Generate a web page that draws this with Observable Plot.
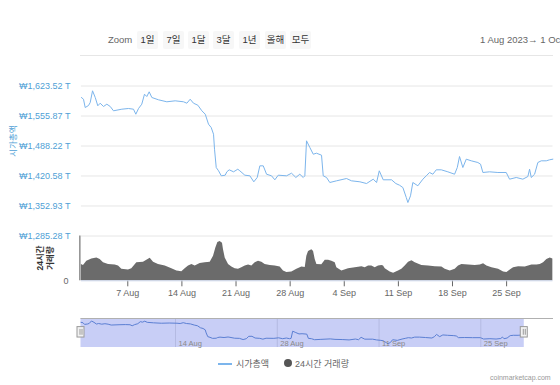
<!DOCTYPE html>
<html>
<head>
<meta charset="utf-8">
<script src="https://cdn.jsdelivr.net/npm/d3@7"></script>
<script src="https://cdn.jsdelivr.net/npm/@observablehq/plot@0.6"></script>
<style>
  html, body { margin: 0; padding: 0; background: #fff; }
  #chart { position: relative; width: 560px; height: 385px; overflow: hidden; background: #fff;
    font-family: "Liberation Sans", Arial, "Noto Sans CJK KR", sans-serif; }
  #chart svg { position: absolute; left: 0; }
  .abs { position: absolute; white-space: nowrap; }
  .btn { position: absolute; top: 31px; height: 18px; line-height: 18px; text-align: center; background: #f7f7f7; color: #333; font-size: 9.5px; border-radius: 2px; }
</style>
</head>
<body>
<div id="chart"></div>
<script>
// ---------- data ----------
const startDate = "2023-08-01";
// market cap (₩ trillion), day offsets from 1 Aug 2023
const mcapDays = [0,0.27,0.49,0.92,1.14,1.44,1.79,2.12,2.43,2.86,3.29,3.73,4.15,5.23,6.09,6.74,7.04,7.39,7.81,8.16,8.46,8.77,9.11,9.97,11.05,12.13,13.21,13.64,14.07,14.5,15.06,15.58,16.02,16.44,16.79,17.09,17.22,17.44,17.74,18.09,18.6,18.81,19.12,19.68,20.23,20.49,21.14,21.79,22.3,22.74,23.08,23.52,23.95,24.59,25.02,25.46,26.53,27.18,27.74,28.25,28.69,28.9,29.12,29.55,29.99,30.41,31.06,31.28,31.71,32.13,33.0,34.29,34.94,36.02,36.88,37.75,38.18,38.53,39.04,40.12,40.67,41.15,41.58,42.02,42.23,42.57,42.87,43.52,44.17,44.61,45.03,45.46,45.9,46.55,47.4,48.27,48.62,48.91,49.34,49.78,50.43,51.28,51.63,51.93,52.79,53.87,54.95,55.38,56.25,57.1,57.75,57.97,58.19,58.62,59.04,59.48,60.13,60.56,60.98];
const mcapValues = [1597.6,1593.7,1575.0,1579.5,1586.3,1612.7,1597.6,1578.9,1584.7,1577.3,1582.5,1577.3,1567.6,1571.2,1572.8,1571.2,1559.9,1572.8,1582.5,1605.0,1599.8,1610.4,1597.6,1592.4,1587.9,1590.1,1587.9,1584.7,1593.7,1584.7,1580.2,1567.6,1559.9,1537.4,1529.9,1514.8,1481.0,1439.7,1432.3,1421.0,1422.4,1430.0,1434.5,1430.0,1435.9,1432.3,1422.4,1421.0,1407.5,1417.2,1443.5,1443.5,1424.6,1421.0,1412.0,1422.4,1421.0,1426.9,1417.2,1424.6,1417.2,1421.0,1499.9,1484.8,1469.7,1472.0,1467.5,1421.0,1417.2,1405.9,1409.7,1414.9,1409.7,1407.5,1403.6,1413.4,1405.9,1432.3,1412.0,1412.0,1403.6,1399.8,1394.6,1372.1,1360.8,1375.9,1405.9,1398.5,1413.4,1421.0,1428.5,1424.6,1434.5,1434.5,1430.0,1424.6,1439.7,1464.5,1439.7,1458.5,1454.8,1451.0,1447.2,1428.5,1430.0,1428.5,1428.5,1413.4,1417.2,1413.4,1419.4,1435.9,1417.2,1424.6,1451.0,1454.8,1454.8,1457.1,1458.5];
// 24h volume (₩ trillion, estimated), day offsets from 1 Aug 2023
const volDays = [0,0.27,0.7,1.35,2.0,2.43,2.86,3.51,4.37,4.8,5.23,6.09,6.52,7.17,8.03,8.46,8.9,9.33,9.97,10.84,11.7,12.35,12.99,13.42,13.86,14.29,14.72,15.36,16.01,16.66,17.09,17.39,17.65,17.95,18.25,18.38,18.6,19.03,19.46,19.89,20.32,20.75,21.19,21.62,22.05,22.48,22.91,23.34,23.77,24.42,25.07,25.71,26.14,26.58,27.22,27.87,28.52,28.95,29.16,29.38,29.81,30.03,30.24,30.46,31.1,31.54,31.97,32.4,32.83,33.04,33.69,34.55,35.42,36.28,36.71,37.14,37.57,38.0,38.43,38.87,39.08,39.3,39.94,40.38,41.02,41.45,41.88,42.32,42.75,43.18,44.04,44.9,45.77,46.63,47.06,47.71,48.35,48.78,49.22,50.08,50.94,51.59,52.02,52.45,53.1,53.96,54.61,55.04,55.47,55.9,56.55,57.41,57.84,58.27,58.92,59.35,59.78,60.21,60.64,60.98];
const volValues = [43.8,41.2,52.6,58.7,61.3,56.9,48.2,43.8,42.0,39.4,30.7,28.9,32.4,48.2,49.9,55.2,60.4,49.9,43.8,39.4,32.4,26.3,24.5,32.4,39.4,43.8,39.4,46.4,48.2,49.9,65.7,87.6,102.5,105.1,100.7,83.2,61.3,43.8,36.8,32.4,30.7,35.0,39.4,42.0,39.4,48.2,52.6,49.9,43.8,41.2,39.4,36.8,26.3,21.9,23.7,30.7,36.8,35.9,65.7,78.8,83.2,78.8,56.9,43.8,42.9,55.2,55.2,52.6,48.2,35.0,26.3,32.4,35.0,37.7,35.0,39.4,39.4,35.0,39.4,41.2,39.4,32.4,23.7,20.1,26.3,30.7,39.4,49.9,53.4,48.2,41.2,39.4,37.7,36.8,30.7,26.3,30.7,39.4,43.8,42.0,41.2,42.0,45.6,39.4,35.0,30.7,23.7,21.9,28.9,35.0,37.7,36.8,39.4,42.0,42.0,43.8,48.2,56.9,61.3,58.7];
const yTicks = [1285.28, 1352.93, 1420.58, 1488.22, 1555.87, 1623.52];
const xTickDates = ["2023-08-07","2023-08-14","2023-08-21","2023-08-28","2023-09-04","2023-09-11","2023-09-18","2023-09-25"];
const navTickDates = ["2023-08-14","2023-08-28","2023-09-11","2023-09-25"];
const zoomButtons = ["1일","7일","1달","3달","1년","올해","모두"];
const seriesNames = ["시가총액","24시간 거래량"];
const rangeText = "1 Aug 2023→  1 Oct";
const creditText = "coinmarketcap.com";

// ---------- build ----------
const DAY = 864e5;
const t0 = new Date(startDate + "T00:00:00Z").getTime();
const toDate = d => new Date(t0 + d * DAY);
const mcap = mcapDays.map((d, i) => ({date: toDate(d), value: mcapValues[i]}));
const vol = volDays.map((d, i) => ({date: toDate(d), value: volValues[i]}));
const xTicks = xTickDates.map(s => new Date(s + "T00:00:00Z"));
const navTicks = navTickDates.map(s => new Date(s + "T00:00:00Z"));
const d0 = toDate(0), dEndMain = toDate(61), dEndNav = toDate(65);
const dLast = mcap[mcap.length - 1].date;
const fmtDay = d3.utcFormat("%-d %b");
const fmtCap = v => "₩" + d3.format(",.2f")(v) + " T";
const FONT = '"Liberation Sans", Arial, "Noto Sans CJK KR", sans-serif';
const LINE = "#7cb5ec", LABEL = "#4f9fd6";

const chart = document.getElementById("chart");

// toolbar
function addText(txt, left, top, style) {
  const s = document.createElement("div");
  s.className = "abs"; s.textContent = txt;
  s.style.left = left + "px"; s.style.top = top + "px";
  Object.assign(s.style, style || {});
  chart.appendChild(s); return s;
}
addText("Zoom", 108, 34, {fontSize: "9.5px", color: "#666"});
const btnLefts = [137, 163, 188, 213, 239, 265, 290];
zoomButtons.forEach((b, i) => {
  const e = document.createElement("div");
  e.className = "btn"; e.textContent = b;
  e.style.left = btnLefts[i] + "px";
  e.style.width = (b.length > 2 ? 22 : 21) + "px";
  chart.appendChild(e);
});
addText(rangeText, 480, 34, {fontSize: "9.5px", color: "#666"});
const hr = document.createElement("div");
hr.className = "abs"; Object.assign(hr.style, {left: "80px", top: "55px", width: "473px", height: "1px", background: "#e6e6e6"});
chart.appendChild(hr);

// main price pane
const main = Plot.plot({
  width: 560, height: 166,
  marginLeft: 80.9, marginRight: 7.5, marginTop: 10.5, marginBottom: 5.5,
  style: {fontFamily: FONT, fontSize: "9px", background: "transparent", overflow: "visible"},
  x: {type: "utc", domain: [d0, dEndMain], axis: null},
  y: {domain: [yTicks[0], yTicks[yTicks.length - 1]], axis: null},
  marks: [
    Plot.ruleY(yTicks, {stroke: "#e6e6e6", strokeWidth: 1}),
    Plot.text(yTicks, {y: d => d, frameAnchor: "left", textAnchor: "end", dx: -11, text: fmtCap, fill: LABEL, fontSize: 9}),
    Plot.lineY(mcap, {x: "date", y: "value", stroke: LINE, strokeWidth: 1})
  ]
});
main.style.top = "75px";
chart.appendChild(main);

// volume pane
const volPlot = Plot.plot({
  width: 560, height: 70,
  marginLeft: 80.9, marginRight: 7.5, marginTop: 5.5, marginBottom: 19.7,
  style: {fontFamily: FONT, fontSize: "9px", background: "transparent", overflow: "visible", color: "#666"},
  x: {type: "utc", domain: [d0, dEndMain], ticks: xTicks, tickFormat: fmtDay, tickSize: 6, tickPadding: 3, label: null},
  y: {domain: [0, 120], axis: null},
  marks: [
    Plot.areaY(vol, {x: "date", y: "value", fill: "#6b6b6b"}),
    Plot.ruleX([d0], {stroke: "#555", dx: -1.5}),
    Plot.ruleY([0], {stroke: "#ccd6eb"}),
    Plot.text([0], {y: d => d, frameAnchor: "left", textAnchor: "end", dx: -13, text: d => String(d), fill: "#666", fontSize: 9})
  ]
});
volPlot.style.top = "230px";
chart.appendChild(volPlot);

// navigator
const nav = Plot.plot({
  width: 560, height: 45,
  marginLeft: 80.5, marginRight: 7, marginTop: 8, marginBottom: 8,
  style: {fontFamily: FONT, fontSize: "7.5px", background: "transparent", overflow: "visible"},
  x: {type: "utc", domain: [d0, dEndNav], axis: null},
  y: {domain: [1320, 1640], axis: null},
  marks: [
    Plot.ruleX(navTicks, {stroke: "#e0e0e0"}),
    Plot.rect([0], {x1: () => d0, x2: () => dLast, y1: () => 1320, y2: () => 1640, fill: "rgb(102,118,230)", fillOpacity: 0.36}),
    Plot.lineY(mcap, {x: "date", y: "value", stroke: "#5b7fd3", strokeWidth: 1}),
    Plot.ruleY([1640], {stroke: "#b0b0b0"}),
    Plot.text(navTicks, {x: d => d, frameAnchor: "bottom", dy: -2, dx: 3, textAnchor: "start", text: fmtDay, fill: "#888", fontSize: 7.5}),
    Plot.rect([d0, dLast], {x1: d => d, x2: d => d, y1: () => 1430, y2: () => 1545, insetLeft: -3.5, insetRight: -3.5, fill: "#f2f2f2", stroke: "#999"}),
    Plot.ruleX([d0, dLast], {y1: () => 1455, y2: () => 1520, stroke: "#999", dx: -1}),
    Plot.ruleX([d0, dLast], {y1: () => 1455, y2: () => 1520, stroke: "#999", dx: 1})
  ]
});
nav.style.top = "310px";
chart.appendChild(nav);

// axis titles
addText(seriesNames[0], 12, 141, {fontSize: "8.5px", color: LABEL, transform: "translate(-50%,-50%) rotate(-90deg)"});
const vt = addText("", 45, 258, {fontSize: "8.5px", color: "#333", fontWeight: "bold", lineHeight: "10px", textAlign: "center", transform: "translate(-50%,-50%) rotate(-90deg)"});
vt.innerHTML = "24시간<br>거래량";

// legend
const lg = document.createElement("div");
lg.className = "abs"; Object.assign(lg.style, {left: "218px", top: "357px", width: "14px", height: "2px", background: LINE, marginTop: "6px"});
chart.appendChild(lg);
addText(seriesNames[0], 236, 357, {fontSize: "9px", color: "#666"});
const dot = document.createElement("div");
dot.className = "abs"; Object.assign(dot.style, {left: "284px", top: "359px", width: "8px", height: "8px", borderRadius: "50%", background: "#555"});
chart.appendChild(dot);
addText(seriesNames[1], 295, 357, {fontSize: "9px", color: "#666"});
addText(creditText, 490, 374, {fontSize: "7px", color: "#999"});
</script>
</body>
</html>
